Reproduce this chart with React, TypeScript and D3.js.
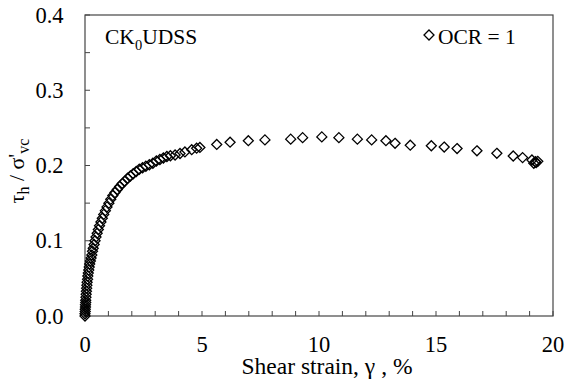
import React from "react";
import * as d3 from "d3";

const strain: number[] = [
  0.0, 0.0, 0.01, 0.01, 0.02, 0.02, 0.03, 0.03, 0.04, 0.05, 0.06, 0.07, 0.08, 0.09, 0.11, 0.12,
  0.14, 0.16, 0.18, 0.2, 0.23, 0.26, 0.29, 0.32, 0.35, 0.39, 0.43, 0.47, 0.52, 0.57, 0.62, 0.68,
  0.74, 0.8, 0.87, 0.94, 1.02, 1.1, 1.19, 1.28, 1.38, 1.48, 1.59, 1.7, 1.82, 1.94, 2.06, 2.19,
  2.32, 2.46, 2.6, 2.75, 2.9, 3.05, 3.2, 3.35, 3.5, 3.65, 3.85, 4.06, 4.27, 4.56, 4.77, 4.91,
  5.63, 6.2, 6.98, 7.69, 8.79, 9.3, 10.12, 10.85, 11.64, 12.25, 12.86, 13.25, 13.9, 14.8, 15.35,
  15.9, 16.75, 17.6, 18.3, 18.7, 19.1, 19.25, 19.18, 19.35, 19.28,
];
const stress: number[] = [
  0.0, 0.003, 0.006, 0.009, 0.012, 0.015, 0.018, 0.021, 0.025, 0.029, 0.033, 0.037, 0.041, 0.045,
  0.049, 0.053, 0.057, 0.061, 0.065, 0.069, 0.073, 0.077, 0.081, 0.086, 0.09, 0.095, 0.1, 0.105,
  0.11, 0.115, 0.12, 0.125, 0.13, 0.135, 0.14, 0.145, 0.15, 0.155, 0.16, 0.164, 0.168, 0.172,
  0.176, 0.179, 0.183, 0.186, 0.189, 0.192, 0.195, 0.197, 0.199, 0.201, 0.203, 0.206, 0.208,
  0.21, 0.212, 0.213, 0.214, 0.216, 0.218, 0.221, 0.223, 0.224,
  0.228, 0.231, 0.233, 0.234, 0.235, 0.237, 0.238, 0.237, 0.235, 0.234, 0.233, 0.2295, 0.227,
  0.2262, 0.2245, 0.2225, 0.2195, 0.2162, 0.2126, 0.2105, 0.2073, 0.205, 0.203, 0.2055, 0.204,
];
const xTickLabels: number[] = [0, 5, 10, 15, 20];
const yTickLabels: number[] = [0, 0.1, 0.2, 0.3, 0.4];
const xMinorTicks: number[] = d3.range(0, 21, 1);
const yMinorTicks: number[] = d3.range(0, 0.4001, 0.05);

const W = 566;
const H = 387;
const M = { left: 85, right: 553, top: 15, bottom: 316 };
const FONT = '"Liberation Serif", "Times New Roman", Times, serif';

const diamond = "M0,-5L5,0L0,5L-5,0Z";

export default function App() {
  const x = d3.scaleLinear().domain([0, 20]).range([M.left, M.right]);
  const y = d3.scaleLinear().domain([0, 0.4]).range([M.bottom, M.top]);
  const pts = strain.map((s, i) => [s, stress[i]] as [number, number]);
  const axisColor = "#454545";
  const ts: React.CSSProperties = { fontFamily: FONT };

  return (
    <svg
      width={W}
      height={H}
      style={{ position: "absolute", left: 0, top: 0, background: "#fff", fontFamily: FONT }}
    >
      <rect x={0} y={0} width={W} height={H} fill="#fff" />
      <rect
        x={M.left}
        y={M.top}
        width={M.right - M.left}
        height={M.bottom - M.top}
        fill="none"
        stroke={axisColor}
        strokeWidth={1.2}
      />
      {xMinorTicks.map((t) => (
        <line key={"xt" + t} x1={x(t)} x2={x(t)} y1={M.bottom} y2={M.bottom - 5} stroke={axisColor} strokeWidth={1} />
      ))}
      {yMinorTicks.map((t) => (
        <line key={"yt" + t} x1={M.left} x2={M.left + 5} y1={y(t)} y2={y(t)} stroke={axisColor} strokeWidth={1} />
      ))}
      {xTickLabels.map((t) => (
        <text key={"xl" + t} x={x(t)} y={351.5} textAnchor="middle" fontSize={22.5} fill="#000" style={ts}>
          {t}
        </text>
      ))}
      {yTickLabels.map((t) => (
        <text key={"yl" + t} x={63.5} y={y(t) + 7.6} textAnchor="end" fontSize={22.5} fill="#000" style={ts}>
          {t.toFixed(1)}
        </text>
      ))}
      <text x={327} y={373.5} textAnchor="middle" fontSize={23.5} fill="#000" style={ts}>
        Shear strain, γ , %
      </text>
      <text transform="translate(24,171) rotate(-90)" textAnchor="middle" fontSize={22} fill="#000" style={ts}>
        τ<tspan fontSize={16} dy={5}>h</tspan>
        <tspan dy={-5}> / σ</tspan>
        <tspan dy={-1}>'</tspan>
        <tspan fontSize={16} dy={6}>vc</tspan>
      </text>
      <text x={105} y={44} fontSize={21.5} fill="#000" style={ts}>
        CK<tspan fontSize={14.5} dy={6}>0</tspan>
        <tspan dy={-6}>UDSS</tspan>
      </text>
      <path d={diamond} transform={`translate(429,35)`} fill="none" stroke="#000" strokeWidth={1.3} />
      <text x={438} y={44} fontSize={21.5} fill="#000" style={ts}>
        OCR = 1
      </text>
      <g>
        {pts.map((p, i) => (
          <path
            key={i}
            d={diamond}
            transform={`translate(${x(p[0])},${y(p[1])})`}
            fill="none"
            stroke="#000"
            strokeWidth={1.3}
          />
        ))}
      </g>
    </svg>
  );
}
